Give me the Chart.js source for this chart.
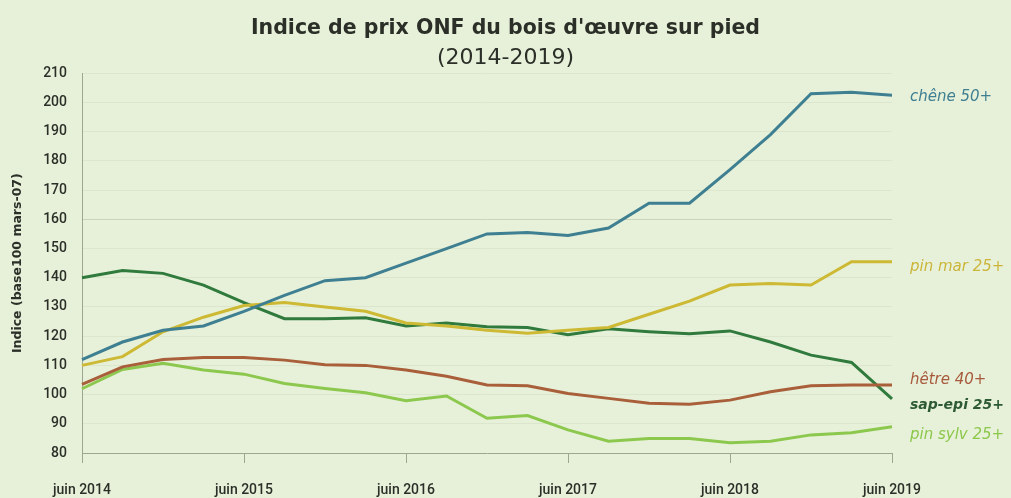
<!DOCTYPE html>
<html>
<head>
<meta charset="utf-8">
<script src="https://cdn.jsdelivr.net/npm/chart.js@4"></script>
<style>
  html, body { margin: 0; padding: 0; background: #e7f1d9; }
  #wrap { width: 1011px; height: 498px; }
</style>
</head>
<body>
<div id="wrap"><canvas id="chart"></canvas></div>
<script>
// quarterly points, juin 2014 -> juin 2019
const quarters = [
  "juin 2014", "sept 2014", "déc 2014", "mars 2015",
  "juin 2015", "sept 2015", "déc 2015", "mars 2016",
  "juin 2016", "sept 2016", "déc 2016", "mars 2017",
  "juin 2017", "sept 2017", "déc 2017", "mars 2018",
  "juin 2018", "sept 2018", "déc 2018", "mars 2019",
  "juin 2019"
];

const chene   = [112, 118, 122, 123.5, 128.5, 134, 139, 140, 145, 150, 155, 155.5, 154.5, 157, 165.5, 165.5, 177, 189, 203, 203.5, 202.5];
const pinMar  = [110, 113, 121.5, 126.5, 130.5, 131.5, 130, 128.5, 124.5, 123.5, 122, 121, 122, 123, 127.5, 132, 137.5, 138, 137.5, 145.5, 145.5];
const hetre   = [103.5, 109.5, 112, 112.7, 112.7, 111.8, 110.2, 110, 108.4, 106.3, 103.3, 103, 100.4, 98.7, 97, 96.7, 98.1, 101, 103, 103.3, 103.3];
const sapEpi  = [140, 142.5, 141.5, 137.5, 131.5, 126, 126, 126.3, 123.5, 124.5, 123.2, 123, 120.5, 122.5, 121.5, 120.8, 121.8, 118, 113.5, 111, 98.5];
const pinSylv = [102, 108.6, 110.7, 108.4, 107, 103.8, 102.1, 100.6, 97.9, 99.5, 91.9, 92.8, 87.9, 84, 85, 85, 83.5, 84, 86.2, 86.9, 89];

const seriesNames = ["chêne 50+", "pin mar 25+", "hêtre 40+", "sap-epi 25+", "pin sylv 25+"];
const yMin = 80, yMax = 210, yStep = 10;

const lineColors  = ["#3f7f92", "#cdb934", "#a95f3a", "#2f7a3c", "#8dc84e"];
const labelColors = ["#3f7f92", "#cbb53a", "#a85a3c", "#2d5a33", "#8cc84b"];
const labelNudge  = [2, 5, -5, 6, 8]; // px shift so the end labels don't collide

const fontNarrow = "'Roboto', 'Liberation Sans', sans-serif";
const fontWide = "'DejaVu Sans', 'Noto Sans', sans-serif";

const endLabels = {
  id: "endLabels",
  afterDatasetsDraw(chart) {
    const ctx = chart.ctx;
    const y = chart.scales.y;
    const x0 = chart.chartArea.right + 18;
    ctx.save();
    ctx.textBaseline = "middle";
    ctx.textAlign = "left";
    chart.data.datasets.forEach((ds, i) => {
      const last = ds.data[ds.data.length - 1];
      ctx.font = (i === 3 ? "italic bold 14px " : "italic 15px ") + fontWide;
      ctx.fillStyle = labelColors[i];
      ctx.fillText(seriesNames[i], x0, y.getPixelForValue(last) + labelNudge[i]);
    });
    ctx.restore();
  }
};

const ds = (data, i) => ({
  label: seriesNames[i],
  data: data,
  borderColor: lineColors[i],
  backgroundColor: lineColors[i],
  borderWidth: 3,
  pointRadius: 0,
  tension: 0
});

new Chart(document.getElementById("chart"), {
  type: "line",
  data: {
    labels: quarters,
    datasets: [ds(chene, 0), ds(pinMar, 1), ds(hetre, 2), ds(sapEpi, 3), ds(pinSylv, 4)]
  },
  options: {
    responsive: true,
    maintainAspectRatio: false,
    animation: false,
    plugins: {
      legend: { display: false },
      tooltip: { enabled: false },
      title: {
        display: true,
        text: "Indice de prix ONF du bois d'œuvre sur pied",
        color: "#2b2f28",
        font: { family: fontWide, size: 20.5, weight: "bold", lineHeight: 1.2 },
        padding: { top: 16, bottom: 4 }
      },
      subtitle: {
        display: true,
        text: "(2014-2019)",
        color: "#2b2f28",
        font: { family: fontWide, size: 22, weight: "normal", lineHeight: 1.1 },
        padding: { top: 1.5, bottom: 3 }
      }
    },
    scales: {
      x: {
        type: "category",
        offset: false,
        afterFit: s => { s.height = 45; },
        grid: {
          display: true,
          drawOnChartArea: false,
          drawTicks: true,
          tickLength: 10,
          color: c => (c.index % 4 === 0 ? "#9ea692" : "rgba(0,0,0,0)")
        },
        border: { display: true, color: "#9ea692", width: 1 },
        ticks: {
          autoSkip: false,
          maxRotation: 0,
          padding: 19,
          color: "#2b2f28",
          font: { family: fontNarrow, size: 14, weight: 500 },
          callback: (v, i) => (i % 4 === 0 ? quarters[i] : "")
        }
      },
      y: {
        min: yMin,
        max: yMax,
        afterFit: s => { s.width = 82; },
        grid: {
          drawTicks: false,
          color: c => (c.tick && c.tick.value === 160 ? "#c9d4b9" : "#dbe6cc"),
          lineWidth: 1
        },
        border: { display: true, color: "#9ea692", width: 1 },
        ticks: {
          stepSize: yStep,
          padding: 15,
          color: "#2b2f28",
          font: { family: fontNarrow, size: 14, weight: 500 }
        },
        title: {
          display: true,
          text: "Indice (base100 mars-07)",
          color: "#2b2f28",
          font: { family: fontWide, size: 12.5, weight: "bold" },
          padding: { top: 10, bottom: 0 }
        }
      },
      yRight: {
        position: "right",
        min: yMin,
        max: yMax,
        afterFit: s => { s.width = 119; },
        grid: { drawOnChartArea: false, drawTicks: false },
        border: { display: false },
        ticks: { display: false }
      }
    }
  },
  plugins: [endLabels]
});
</script>
</body>
</html>
